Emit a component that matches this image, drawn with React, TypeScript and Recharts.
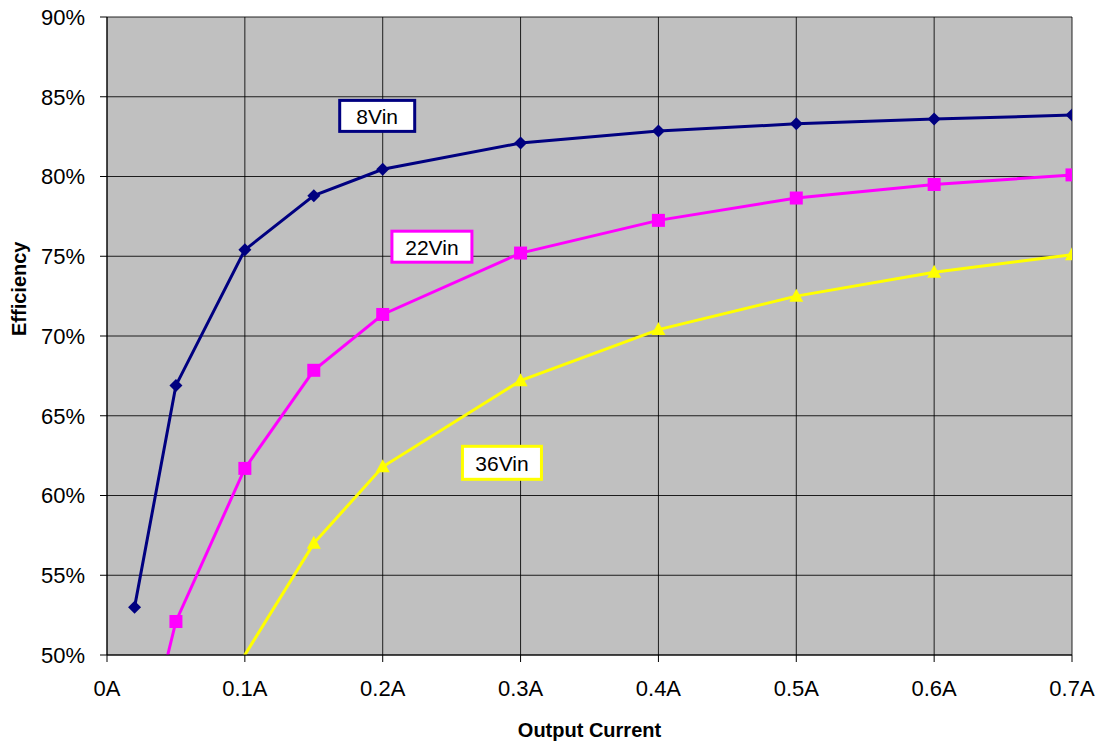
import { LineChart, Line, XAxis, YAxis, CartesianGrid, ReferenceDot } from 'recharts';

const currents8 = [0.02, 0.05, 0.1, 0.15, 0.2, 0.3, 0.4, 0.5, 0.6, 0.7];
const eff8 = [53.0, 66.9, 75.4, 78.8, 80.45, 82.1, 82.85, 83.3, 83.6, 83.85];

const currents22 = [0.02, 0.05, 0.1, 0.15, 0.2, 0.3, 0.4, 0.5, 0.6, 0.7];
const eff22 = [41.5, 52.1, 61.7, 67.85, 71.35, 75.2, 77.25, 78.65, 79.5, 80.1];

const currents36 = [0.05, 0.15, 0.2, 0.3, 0.4, 0.5, 0.6, 0.7];
const eff36 = [43.0, 57.0, 61.8, 67.2, 70.4, 72.5, 74.0, 75.1];

const xTicks = [0, 0.1, 0.2, 0.3, 0.4, 0.5, 0.6, 0.7];
const yTicks = [50, 55, 60, 65, 70, 75, 80, 85, 90];

const seriesLabels = [
  { text: '8Vin', x: 0.196, y: 83.8, color: '#000080', w: 75, h: 31 },
  { text: '22Vin', x: 0.2357, y: 75.6, color: '#FF00FF', w: 80, h: 31 },
  { text: '36Vin', x: 0.2865, y: 62.05, color: '#FFFF00', w: 79, h: 33 },
];

const toRows = (xs: number[], ys: number[]) => xs.map((x, i) => ({ x, y: ys[i] }));

const FONT = '"Liberation Sans", Arial, sans-serif';

function Diamond(props: any) {
  const { cx, cy } = props;
  if (cx == null || cy == null) return null;
  const r = 6.5;
  return <polygon points={`${cx},${cy - r} ${cx + r},${cy} ${cx},${cy + r} ${cx - r},${cy}`} fill="#000080" />;
}

function Square(props: any) {
  const { cx, cy } = props;
  if (cx == null || cy == null) return null;
  return <rect x={cx - 6.5} y={cy - 6.5} width={13} height={13} fill="#FF00FF" />;
}

function Triangle(props: any) {
  const { cx, cy } = props;
  if (cx == null || cy == null) return null;
  return <polygon points={`${cx},${cy - 7.5} ${cx + 7},${cy + 5.5} ${cx - 7},${cy + 5.5}`} fill="#FFFF00" />;
}

function boxShape(text: string, color: string, w: number, h: number) {
  return (props: any) => {
    const { cx, cy } = props;
    return (
      <g>
        <rect x={cx - w / 2} y={cy - h / 2} width={w} height={h} fill="#fff" stroke={color} strokeWidth={3} />
        <text x={cx} y={cy + 8} textAnchor="middle" fontSize={21} fontFamily={FONT} fill="#000">
          {text}
        </text>
      </g>
    );
  };
}

const tickStyle = { fill: '#000', fontSize: 22, fontFamily: FONT };

export default function App() {
  return (
    <div style={{ position: 'absolute', left: 0, top: 0, width: 1102, height: 741, background: '#fff' }}>
      <LineChart width={1102} height={741} margin={{ top: 17, right: 30, bottom: 0, left: 0 }}>
        <CartesianGrid fill="#C0C0C0" stroke="#000" strokeOpacity={0.85} horizontalValues={yTicks} verticalValues={xTicks} />
        <XAxis
          type="number"
          dataKey="x"
          domain={[0, 0.7]}
          ticks={xTicks}
          allowDataOverflow
          height={86}
          tickSize={7}
          tickMargin={18}
          stroke="#000"
          tick={tickStyle}
          tickFormatter={(v: number) => `${Number(v.toFixed(1))}A`}
          label={{ value: 'Output Current', position: 'insideBottom', offset: 4, fill: '#000', fontSize: 20, fontWeight: 'bold', fontFamily: FONT }}
        />
        <YAxis
          type="number"
          domain={[50, 90]}
          ticks={yTicks}
          allowDataOverflow
          width={107}
          tickSize={7}
          tickMargin={15}
          stroke="#000"
          tick={tickStyle}
          tickFormatter={(v: number) => `${v}%`}
          label={{ value: 'Efficiency', angle: -90, position: 'insideLeft', offset: 19, fill: '#000', fontSize: 20, fontWeight: 'bold', fontFamily: FONT }}
        />
        <Line data={toRows(currents8, eff8)} dataKey="y" type="linear" stroke="#000080" strokeWidth={3} dot={<Diamond />} isAnimationActive={false} />
        <Line data={toRows(currents22, eff22)} dataKey="y" type="linear" stroke="#FF00FF" strokeWidth={3} dot={<Square />} isAnimationActive={false} />
        <Line data={toRows(currents36, eff36)} dataKey="y" type="linear" stroke="#FFFF00" strokeWidth={3} dot={<Triangle />} isAnimationActive={false} />
        {seriesLabels.map((l) => (
          <ReferenceDot key={l.text} x={l.x} y={l.y} r={0} shape={boxShape(l.text, l.color, l.w, l.h)} />
        ))}
      </LineChart>
    </div>
  );
}
